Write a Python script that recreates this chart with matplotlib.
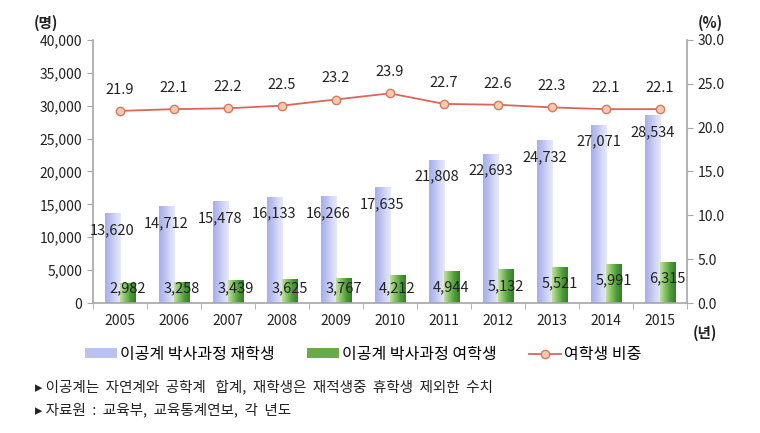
import numpy as np
import matplotlib
matplotlib.use('Agg')
import matplotlib.pyplot as plt
from matplotlib.colors import LinearSegmentedColormap
from matplotlib.lines import Line2D
from matplotlib.patches import Patch

plt.rcParams['font.family'] = ['Noto Sans CJK KR', 'DejaVu Sans']

anos = ['2005', '2006', '2007', '2008', '2009', '2010', '2011', '2012', '2013', '2014', '2015']
total = [13620, 14712, 15478, 16133, 16266, 17635, 21808, 22693, 24732, 27071, 28534]
mulheres = [2982, 3258, 3439, 3625, 3767, 4212, 4944, 5132, 5521, 5991, 6315]
razao = [21.9, 22.1, 22.2, 22.5, 23.2, 23.9, 22.7, 22.6, 22.3, 22.1, 22.1]

cor_texto = '#222222'
cor_eixo = '#a6a6a6'
cmap_azul = LinearSegmentedColormap.from_list('azul', ['#a6aee8', '#b9c0f0', '#d3d8f6', '#e6e9fa'])
cmap_verde = LinearSegmentedColormap.from_list('verde', ['#c2e0a4', '#84c062', '#4c9c3a', '#367f27'])


def barraGradiente(ax, barras, cmap):
    grad = np.linspace(0, 1, 64).reshape(1, -1)
    for b in barras:
        x0, y0 = b.get_x(), b.get_y()
        w, h = b.get_width(), b.get_height()
        b.set_facecolor('none')
        b.set_edgecolor('none')
        im = ax.imshow(grad, extent=[x0, x0 + w, y0, y0 + h], aspect='auto',
                       cmap=cmap, zorder=2, interpolation='bilinear')
        im.set_clip_path(b)


fig = plt.figure(figsize=(7.6, 4.33), dpi=100)
ax = fig.add_axes([0.122, 0.30, 0.782, 0.608])
ax2 = ax.twinx()

x = np.arange(len(anos))
larg = 0.28
b1 = ax.bar(x - larg / 2, total, larg)
b2 = ax.bar(x + larg / 2, mulheres, larg)
barraGradiente(ax, b1, cmap_azul)
barraGradiente(ax, b2, cmap_verde)

ax.set_xlim(-0.5, len(anos) - 0.5)
ax.set_ylim(0, 40000)
ax.set_yticks(range(0, 40001, 5000))
ax.set_yticklabels(['{:,}'.format(v) for v in range(0, 40001, 5000)])
ax.set_xticks(x)
ax.set_xticklabels(anos)
ax.set_xticks(np.arange(-0.5, len(anos), 1), minor=True)
ax.tick_params(axis='x', which='major', length=0, pad=8, labelsize=10, colors=cor_texto)
ax.tick_params(axis='x', which='minor', length=4, color=cor_eixo)
ax.tick_params(axis='y', length=4, color=cor_eixo, labelsize=10, labelcolor=cor_texto)

# rotulos das barras
for i in range(len(anos)):
    ax.text(x[i] - larg / 2, total[i] - 2550, '{:,}'.format(total[i]),
            ha='center', va='center', fontsize=10.5, color=cor_texto, zorder=5)
    yv = max(mulheres[i] - 2585, 2300)
    ax.text(x[i] + larg / 2, yv, '{:,}'.format(mulheres[i]),
            ha='center', va='center', fontsize=10.5, color=cor_texto, zorder=5)

ax2.plot(x, razao, color='#d9665a', lw=1.3, marker='o', ms=6,
         mfc='#f9c9ae', mec='#d27a62', mew=1.0, zorder=4)
for i in range(len(anos)):
    ax2.text(x[i], razao[i] + 1.6, '{:.1f}'.format(razao[i]), ha='center', va='bottom',
             fontsize=10.5, color=cor_texto)
ax2.set_ylim(0, 30)
ax2.set_yticks(np.arange(0, 30.1, 5))
ax2.set_yticklabels(['{:.1f}'.format(v) for v in np.arange(0, 30.1, 5)])
ax2.tick_params(axis='y', length=4, color=cor_eixo, labelsize=10, labelcolor=cor_texto)

for a in (ax, ax2):
    a.spines['top'].set_visible(False)
    for s in ('left', 'right', 'bottom'):
        a.spines[s].set_color(cor_eixo)
        a.spines[s].set_linewidth(1.2)
ax.spines['right'].set_visible(False)
ax2.spines['left'].set_visible(False)
ax2.spines['bottom'].set_visible(False)

fig.text(0.045, 0.948, '(명)', fontsize=10.5, fontweight='bold', color=cor_texto, va='center')
fig.text(0.918, 0.948, '(%)', fontsize=10.5, fontweight='bold', color=cor_texto, va='center')
fig.text(0.912, 0.232, '(년)', fontsize=10.5, fontweight='bold', color=cor_texto, va='center')

handles = [
    Patch(facecolor='#bcc2ee', edgecolor='none'),
    Patch(facecolor='#6aaa4a', edgecolor='none'),
    Line2D([], [], color='#d9665a', lw=1.3, marker='o', ms=6, mfc='#f9c9ae', mec='#d27a62'),
]
nomes = ['이공계 박사과정 재학생', '이공계 박사과정 여학생', '여학생 비중']
fig.legend(handles, nomes, loc='center', bbox_to_anchor=(0.478, 0.182), ncol=3, frameon=False,
           fontsize=11.5, handlelength=2.0, handleheight=0.5, columnspacing=2.0, handletextpad=0.2)

fig.text(0.046, 0.107, '▸ 이공계는  자연계와  공학계   합계,  재학생은  재적생중  휴학생  제외한  수치',
         fontsize=10.5, color=cor_texto, va='center')
fig.text(0.046, 0.053, '▸ 자료원  :  교육부,  교육통계연보,  각  년도',
         fontsize=10.5, color=cor_texto, va='center')

fig.savefig('out.png', dpi=100)
